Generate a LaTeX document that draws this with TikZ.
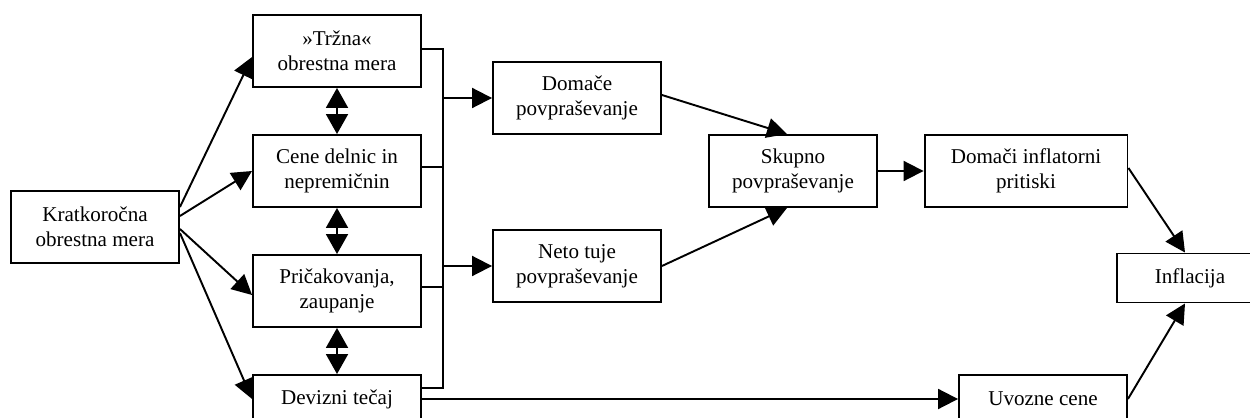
\documentclass[tikz,border=0pt]{standalone}
\usepackage{fontspec}
\setmainfont{Liberation Serif}
\usepackage{tikz}
\usetikzlibrary{arrows.meta, calc}

\begin{document}
\begin{tikzpicture}[x=0.02cm, y=-0.02cm, line width=1.1pt,
    box/.style={draw, align=center, font=\fontsize{12}{14.2}\selectfont, minimum width=3.36cm, minimum height=1.44cm, inner sep=1pt},
    arr/.style={-{Triangle[length=0.4cm, width=0.4cm]}},
    dbl/.style={{Triangle[length=0.4cm, width=0.44cm]}-{Triangle[length=0.4cm, width=0.44cm]}}]
  \useasboundingbox (0,0) rectangle (1250,418);
  \node[box] (kratk) at (95,227) {Kratkoročna\\obrestna mera};
  \node[box] (trzna) at (337,51) {»Tržna«\\obrestna mera};
  \node[box] (cene) at (337,171) {Cene delnic in\\nepremičnin};
  \node[box] (prica) at (337,291) {Pričakovanja,\\zaupanje};
  \node[box, minimum height=0.96cm] (devizni) at (337,399) {Devizni tečaj};
  \node[box] (domace) at (577,98) {Domače\\povpraševanje};
  \node[box] (neto) at (577,266) {Neto tuje\\povpraševanje};
  \node[box] (skupno) at (793,171) {Skupno\\povpraševanje};
  \node[box, minimum width=4.06cm] (domaci) at (1026,171) {Domači inflatorni\\pritiski};
  \node[box, minimum width=2.92cm, minimum height=0.98cm] (inflacija) at (1190,278) {Inflacija};
  \node[box, minimum height=0.96cm] (uvozne) at (1043,399) {Uvozne cene};
  \coordinate (bus) at (443,388);
  \draw ($(trzna.east)+(0,-2)$) -| (bus) -- (bus -| devizni.east);
  \foreach \n in {cene, prica}
    \draw ($(\n.east)+(0,-4)$) -- ($(\n.east -| bus)+(0,-4)$);
  \foreach \n in {domace, neto}
    \draw[arr] (\n.west -| bus) -- (\n.west);
  \draw[arr] (devizni.east) -- (uvozne.west);
  \foreach \a/\b in {trzna/cene, cene/prica, prica/devizni}
    \draw[dbl] (\a.south) -- (\b.north);
  \draw[arr] ($(kratk.east)+(0,-20)$) -- ($(trzna.west)+(0,6)$);
  \draw[arr] ($(kratk.east)+(0,-11)$) -- (cene.west);
  \draw[arr] ($(kratk.east)+(0,2)$) -- ($(prica.west)+(0,4)$);
  \draw[arr] ($(kratk.east)+(0,6)$) -- (devizni.west);
  \draw[arr] ($(domace.east)+(0,-3)$) -- ($(skupno.north)+(-6,0)$);
  \draw[arr] (neto.east) -- ($(skupno.south)+(-6,0)$);
  \draw[arr] (skupno) -- (domaci);
  \draw[arr] ($(domaci.east)+(0,-3)$) -- ($(inflacija.north)+(-5,0)$);
  \draw[arr] (uvozne.east) -- ($(inflacija.south)+(-5,0)$);
\end{tikzpicture}
\end{document}
